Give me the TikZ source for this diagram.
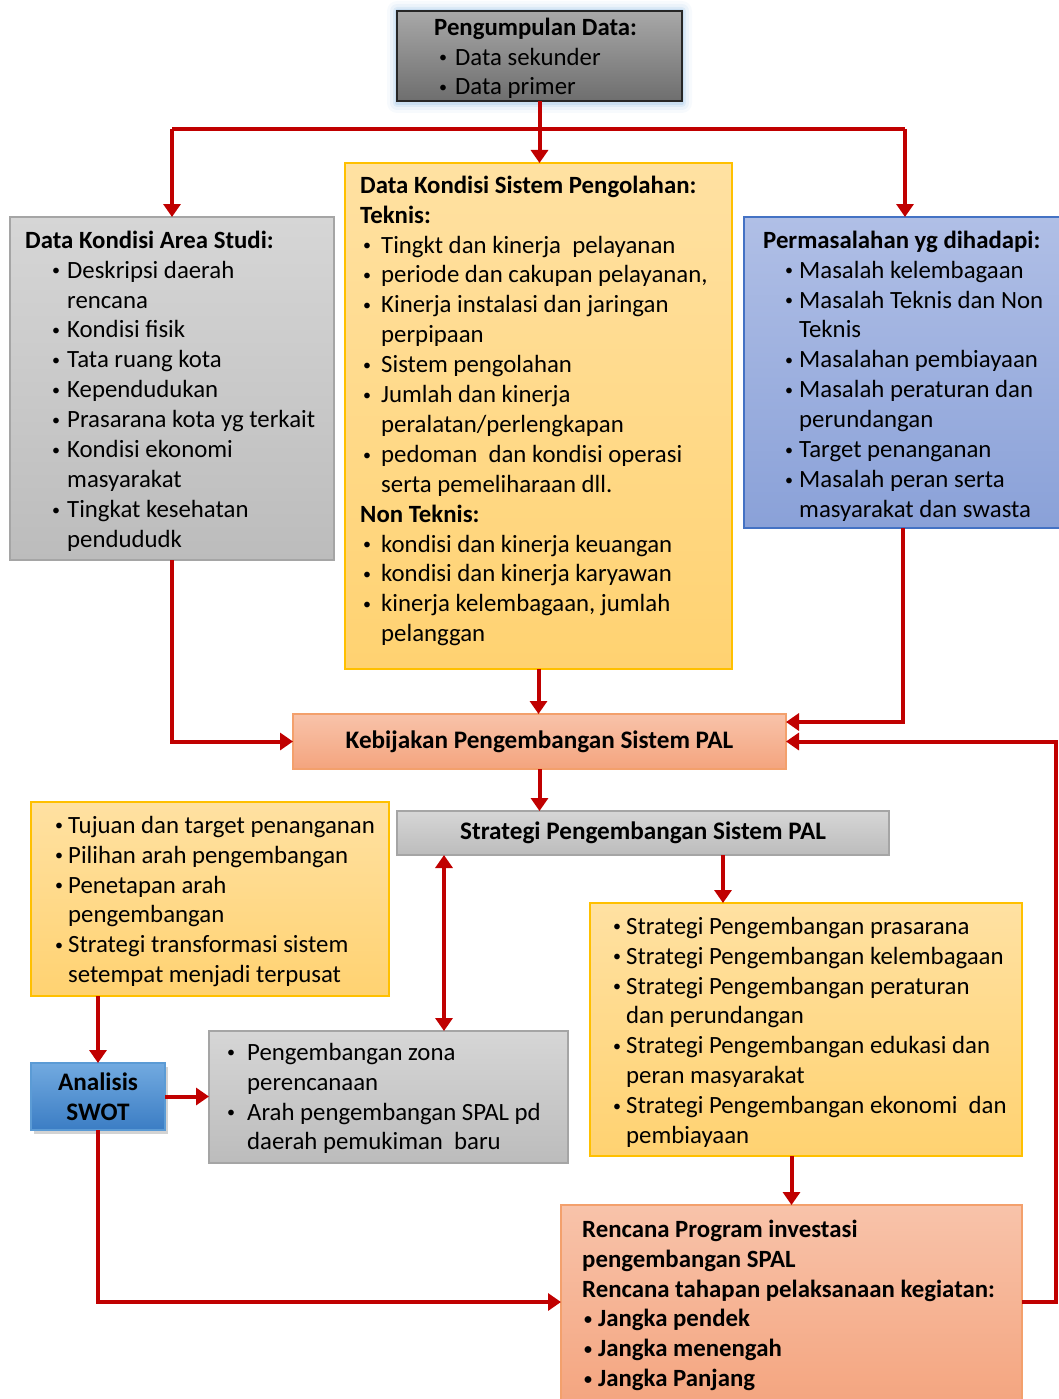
\documentclass[tikz,border=0pt]{standalone}
\usepackage{fontspec}
\setmainfont{Carlito}
\usetikzlibrary{arrows.meta,shadows,calc,backgrounds}
\newcommand\bitem[2]{\hspace*{#1}\makebox[#2][l]{\hspace{1pt}{\fontsize{16}{16}\selectfont\raisebox{2.3pt}{•}}}}
\newcommand\citem[1]{\hspace*{#1}}
\newcommand\fl{\rule{0pt}{22pt}}
\definecolor{myred}{HTML}{C00000}
\definecolor{lgtop}{HTML}{D6D6D6}
\definecolor{lgbot}{HTML}{BCBCBC}
\definecolor{lgborder}{HTML}{A5A5A5}
\definecolor{datatop}{HTML}{A8A8A8}
\definecolor{databot}{HTML}{6E6E6E}
\definecolor{yeltop}{HTML}{FFE1A2}
\definecolor{yelbot}{HTML}{FFD271}
\definecolor{yelborder}{HTML}{FFC000}
\definecolor{bluetop}{HTML}{B0BFE6}
\definecolor{bluebot}{HTML}{8AA1D8}
\definecolor{blueborder}{HTML}{4472C4}
\definecolor{salmtop}{HTML}{F8C3AA}
\definecolor{salmbot}{HTML}{F4A47E}
\definecolor{salmborder}{HTML}{F3A06C}
\definecolor{swottop}{HTML}{72AAE0}
\definecolor{swotbot}{HTML}{3B7DC4}
\definecolor{swotborder}{HTML}{5B9BD5}
\definecolor{glowblue}{HTML}{9DC3E6}
\begin{document}
\begin{tikzpicture}[x=1pt,y=-1pt,
  box/.style={anchor=north west, inner sep=0pt, outer sep=0pt, line width=1.5pt},
  lgbox/.style={box, draw=lgborder, top color=lgtop, bottom color=lgbot},
  ylbox/.style={box, draw=yelborder, top color=yeltop, bottom color=yelbot},
  blbox/.style={box, draw=blueborder, top color=bluetop, bottom color=bluebot},
  sabox/.style={box, draw=salmborder, top color=salmtop, bottom color=salmbot},
  txt/.style={anchor=north west, inner sep=0pt, align=left, font=\fontsize{24.8}{29.9}\selectfont},
  btxt/.style={font=\fontsize{25.2}{29.9}\selectfont\bfseries},
  link/.style={draw=myred, line width=4pt},
  arr/.style={link, -{Triangle[width=17pt,length=13pt]}},
  dbl/.style={link, {Triangle[width=17pt,length=13pt]}-{Triangle[width=17pt,length=13pt]}},
]
\useasboundingbox (0,0) rectangle (1059,1399);
\clip (0,0) rectangle (1059,1399);

% boxes
\node[box, draw=black!85, line width=2pt, top color=datatop, bottom color=databot,
      minimum width=285pt, minimum height=90pt] (data) at (397,11) {};
\node[ylbox, minimum width=387pt, minimum height=506pt] (kond) at (345,163) {};
\node[lgbox, minimum width=324pt, minimum height=343pt] (area) at (10,217) {};
\node[blbox, minimum width=318pt, minimum height=311pt] (masalah) at (744,217) {};
\node[sabox, minimum width=493pt, minimum height=55pt, btxt] (keb) at (293,714) {Kebijakan Pengembangan Sistem PAL};
\node[lgbox, minimum width=492pt, minimum height=44pt, btxt] (strat) at (397,811) {Strategi Pengembangan Sistem PAL};
\node[ylbox, minimum width=358pt, minimum height=194pt] (tuj) at (31,802) {};
\node[box, draw=swotborder, top color=swottop, bottom color=swotbot,
      drop shadow={opacity=0.35, shadow xshift=3pt, shadow yshift=-4pt},
      minimum width=134pt, minimum height=67pt, btxt, align=center] (swot) at (31,1063) {Analisis\\SWOT};
\node[lgbox, minimum width=359pt, minimum height=132pt] (gz) at (209,1031) {};
\node[ylbox, minimum width=432pt, minimum height=253pt] (sb) at (590,903) {};
\node[sabox, minimum width=461pt, minimum height=205pt] (renc) at (561,1205) {};

% glow behind the data box
\begin{scope}[on background layer]
  \foreach \e/\o in {10/0.08,7/0.12,4/0.2,2/0.3}
    \fill[glowblue, opacity=\o, rounded corners=\e pt] ([shift={(-\e,-\e)}]data.north west) rectangle ([shift={(\e,\e+2)}]data.south east);
\end{scope}

% texts
\node[txt] (tdata) at (434,13) {\fl\textbf{Pengumpulan Data:}\\
  \bitem{4pt}{17pt}Data sekunder\\
  \bitem{4pt}{17pt}Data primer};

\node[txt] (tarea) at (25,226) {\fl\textbf{Data Kondisi Area Studi:}\\
  \bitem{26pt}{16pt}Deskripsi daerah\\
  \citem{42pt}rencana\\
  \bitem{26pt}{16pt}Kondisi fisik\\
  \bitem{26pt}{16pt}Tata ruang kota\\
  \bitem{26pt}{16pt}Kependudukan\\
  \bitem{26pt}{16pt}Prasarana kota yg terkait\\
  \bitem{26pt}{16pt}Kondisi ekonomi\\
  \citem{42pt}masyarakat\\
  \bitem{26pt}{16pt}Tingkat kesehatan\\
  \citem{42pt}pendududk};

\node[txt] (tkond) at (360,171) {\fl\textbf{Data Kondisi Sistem Pengolahan:}\\
  \textbf{Teknis:}\\
  \bitem{2pt}{19pt}Tingkt dan kinerja\ \ pelayanan\\
  \bitem{2pt}{19pt}periode dan cakupan pelayanan,\\
  \bitem{2pt}{19pt}Kinerja instalasi dan jaringan\\
  \citem{21pt}perpipaan\\
  \bitem{2pt}{19pt}Sistem pengolahan\\
  \bitem{2pt}{19pt}Jumlah dan kinerja\\
  \citem{21pt}peralatan/perlengkapan\\
  \bitem{2pt}{19pt}pedoman\ \ dan kondisi operasi\\
  \citem{21pt}serta pemeliharaan dll.\\
  \textbf{Non Teknis:}\\
  \bitem{2pt}{19pt}kondisi dan kinerja keuangan\\
  \bitem{2pt}{19pt}kondisi dan kinerja karyawan\\
  \bitem{2pt}{19pt}kinerja kelembagaan, jumlah\\
  \citem{21pt}pelanggan};

\node[txt] (tmasalah) at (763,226) {\fl\textbf{Permasalahan yg dihadapi:}\\
  \bitem{21pt}{15pt}Masalah kelembagaan\\
  \bitem{21pt}{15pt}Masalah Teknis dan Non\\
  \citem{36pt}Teknis\\
  \bitem{21pt}{15pt}Masalahan pembiayaan\\
  \bitem{21pt}{15pt}Masalah peraturan dan\\
  \citem{36pt}perundangan\\
  \bitem{21pt}{15pt}Target penanganan\\
  \bitem{21pt}{15pt}Masalah peran serta\\
  \citem{36pt}masyarakat dan swasta};

\node[txt] (ttuj) at (54,811) {\fl\bitem{0pt}{14pt}Tujuan dan target penanganan\\
  \bitem{0pt}{14pt}Pilihan arah pengembangan\\
  \bitem{0pt}{14pt}Penetapan arah\\
  \citem{14pt}pengembangan\\
  \bitem{0pt}{14pt}Strategi transformasi sistem\\
  \citem{14pt}setempat menjadi terpusat};

\node[txt] (tgz) at (226,1038) {\fl\bitem{0pt}{21pt}Pengembangan zona\\
  \citem{21pt}perencanaan\\
  \bitem{0pt}{21pt}Arah pengembangan SPAL pd\\
  \citem{21pt}daerah pemukiman\ \ baru};

\node[txt] (tsb) at (612,912) {\fl\bitem{0pt}{14pt}Strategi Pengembangan prasarana\\
  \bitem{0pt}{14pt}Strategi Pengembangan kelembagaan\\
  \bitem{0pt}{14pt}Strategi Pengembangan peraturan\\
  \citem{14pt}dan perundangan\\
  \bitem{0pt}{14pt}Strategi Pengembangan edukasi dan\\
  \citem{14pt}peran masyarakat\\
  \bitem{0pt}{14pt}Strategi Pengembangan ekonomi\ \ dan\\
  \citem{14pt}pembiayaan};

\node[txt, font=\fontsize{24.8}{29.9}\selectfont\bfseries] (trenc) at (582,1215) {\fl Rencana Program investasi\\
  pengembangan SPAL\\
  Rencana tahapan pelaksanaan kegiatan:\\
  \bitem{1pt}{15pt}Jangka pendek\\
  \bitem{1pt}{15pt}Jangka menengah\\
  \bitem{1pt}{15pt}Jangka Panjang};

% connectors
\coordinate (hl) at (172,129);
\coordinate (hr) at (905,129);
\coordinate (dx) at (444,0);
\coordinate (sx) at (723,0);
\coordinate (fb1) at (1056,1302);
\coordinate (fb2) at (1056,741.5);

\draw[link] (hl) -- (hr);
\draw[arr] (data.south) -- (data.south |- kond.north);
\draw[arr] (hl) -- (area.north);
\draw[arr] (hr) -- (hr |- masalah.north);
\draw[arr] (kond.south) -- (kond.south |- keb.north);
\draw[arr] (area.south) |- (keb.west);
\draw[arr] (masalah.south) |- ($(keb.north east)+(0,8)$);
\draw[arr] (renc.east |- fb1) -- (fb1) -- (fb2) -- (keb.east);
\draw[arr] (keb.south) -- (keb.south |- strat.north);
\draw[dbl] (strat.south -| dx) -- (gz.north -| dx);
\draw[arr] (strat.south -| sx) -- (sb.north -| sx);
\draw[arr] (renc.north |- sb.south) -- (renc.north);
\draw[arr] (swot.north |- tuj.south) -- (swot.north);
\draw[arr] (swot.east) -- (swot.east -| gz.west);
\draw[arr] (swot.south) |- (renc.west |- fb1);
\end{tikzpicture}
\end{document}
